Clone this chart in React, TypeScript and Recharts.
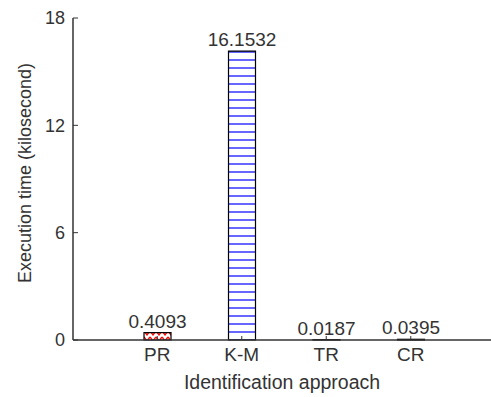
import React from "react";
import { BarChart, Bar, XAxis, YAxis, Cell, LabelList } from "recharts";

// Execution time per identification approach (kilosecond)
const approaches = ["PR", "K-M", "TR", "CR"];
const execTimes = [0.4093, 16.1532, 0.0187, 0.0395];
const valueLabels = ["0.4093", "16.1532", "0.0187", "0.0395"];
const yTicks = [0, 6, 12, 18];

const fills = ["url(#hatchRed)", "url(#hatchBlue)", "url(#hatchBlack)", "url(#hatchBlack)"];

const data = approaches.map((name, i) => ({
  name,
  value: execTimes[i],
  label: valueLabels[i],
}));

const FONT = "'Liberation Sans', Arial, sans-serif";
const INK = "#333333";

export default function App() {
  return (
    <div style={{ position: "absolute", left: 0, top: 0, width: 491, height: 397, background: "#fff" }}>
      <BarChart
        width={491}
        height={397}
        data={data}
        margin={{ top: 18, right: 0, bottom: 0, left: 0 }}
        style={{ fontFamily: FONT }}
      >
        <defs>
          <pattern id="hatchRed" width="6" height="6" patternUnits="userSpaceOnUse">
            <rect width="6" height="6" fill="#fff" />
            <polyline points="0,1 3,5 6,1" fill="none" stroke="#ff0000" strokeWidth="1.3" />
          </pattern>
          <pattern id="hatchBlue" width="6" height="8" patternUnits="userSpaceOnUse">
            <rect width="6" height="8" fill="#fff" />
            <line x1="0" y1="4" x2="6" y2="4" stroke="#0000ff" strokeWidth="1.2" />
          </pattern>
          <pattern id="hatchBlack" width="6" height="6" patternUnits="userSpaceOnUse">
            <rect width="6" height="6" fill="#fff" />
          </pattern>
        </defs>
        <XAxis
          dataKey="name"
          type="category"
          padding={{ left: 42, right: 38 }}
          height={57}
          stroke={INK}
          axisLine={{ stroke: INK, strokeWidth: 1.5 }}
          tickLine={{ stroke: INK }}
          tickSize={-4}
          tickMargin={12}
          tick={{ fill: INK, fontSize: 19, fontFamily: FONT }}
          label={{
            value: "Identification approach",
            position: "center",
            dy: 14,
            fill: INK,
            fontSize: 19.5,
            fontFamily: FONT,
          }}
        />
        <YAxis
          type="number"
          domain={[0, 18]}
          ticks={yTicks}
          width={73}
          stroke={INK}
          axisLine={{ stroke: INK, strokeWidth: 1.5 }}
          tickLine={{ stroke: INK }}
          tickSize={-5}
          tickMargin={13}
          tick={{ fill: INK, fontSize: 18, fontFamily: FONT }}
          label={{
            value: "Execution time (kilosecond)",
            angle: -90,
            position: "center",
            dx: -12,
            dy: -6,
            fill: INK,
            fontSize: 18,
            fontFamily: FONT,
          }}
        />
        <Bar dataKey="value" barSize={27} stroke="#000" strokeWidth={1.2} isAnimationActive={false}>
          {data.map((d, i) => (
            <Cell key={d.name} fill={fills[i]} />
          ))}
          <LabelList
            dataKey="label"
            position="top"
            offset={5}
            fill={INK}
            fontSize={19}
            fontFamily={FONT}
          />
        </Bar>
      </BarChart>
    </div>
  );
}
